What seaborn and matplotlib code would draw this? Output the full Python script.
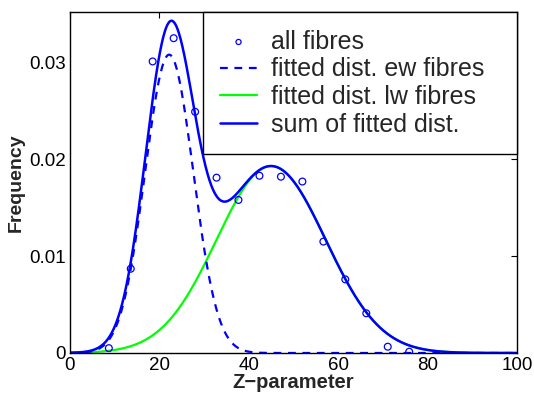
import numpy as np
import pandas as pd
import matplotlib
matplotlib.use("Agg")
import matplotlib.pyplot as plt
import seaborn as sns
from matplotlib.ticker import FuncFormatter

# Observed histogram points (all fibres)
z_points = [8.7, 13.6, 18.5, 23.2, 28.0, 32.8, 37.7, 42.4, 47.2, 52.0, 56.7, 61.6, 66.3, 71.1, 75.9]
freq_points = [0.0005, 0.0087, 0.0301, 0.0325, 0.0249, 0.0181, 0.0158, 0.0183, 0.0182, 0.0177,
               0.0115, 0.0076, 0.0041, 0.00065, 0.00013]

# Fitted normal-distribution parameters (mean, sd, peak height)
ew_mean, ew_sd, ew_peak = 22.2, 5.4, 0.0308
lw_mean, lw_sd, lw_peak = 45.0, 12.2, 0.0193

x_ticks = [0, 20, 40, 60, 80, 100]
y_ticks = [0, 0.01, 0.02, 0.03]

z = np.linspace(0, 100, 801)
ew = ew_peak * np.exp(-(z - ew_mean) ** 2 / (2 * ew_sd ** 2))
lw = lw_peak * np.exp(-(z - lw_mean) ** 2 / (2 * lw_sd ** 2))
total = ew + lw
curves = pd.DataFrame({"z": z, "ew": ew, "lw": lw, "sum": total})
pts = pd.DataFrame({"z": z_points, "f": freq_points})

sns.set_style("white")
plt.rcParams["font.family"] = ["Liberation Sans", "DejaVu Sans"]

fig = plt.figure(figsize=(5.34, 3.96), dpi=100)
ax = fig.add_axes([0.131, 0.1086, 0.837, 0.861])

blue = "#0000ff"
sns.scatterplot(data=pts, x="z", y="f", ax=ax, marker="o", s=24, facecolor="none",
                edgecolor=blue, linewidth=0.9, label="all fibres", zorder=3)
sns.lineplot(data=curves, x="z", y="ew", ax=ax, color=blue, lw=1.6, linestyle=(0, (3.5, 3)),
             label="fitted dist. ew fibres", zorder=2)
sns.lineplot(data=curves, x="z", y="lw", ax=ax, color="#00ff00", lw=1.6,
             label="fitted dist. lw fibres", zorder=1)
sns.lineplot(data=curves, x="z", y="sum", ax=ax, color=blue, lw=1.8,
             label="sum of fitted dist.", zorder=2.5)

ax.set_xlim(0, 100)
ax.set_ylim(0, 0.0352)
ax.set_xticks(x_ticks)
ax.set_yticks(y_ticks)
ax.yaxis.set_major_formatter(FuncFormatter(lambda v, p: "0" if v == 0 else f"{v:.2f}"))
ax.tick_params(direction="in", length=4, width=0.8, top=True, right=True,
               labelsize=13.5, colors="black", pad=3)
for s in ax.spines.values():
    s.set_color("black")
    s.set_linewidth(1.0)

ax.set_xlabel("Z\u2212parameter", fontsize=14.5, fontweight="bold", labelpad=-1)
ax.set_ylabel("Frequency", fontsize=14, fontweight="bold", labelpad=3)

leg = ax.legend(loc="upper left", bbox_to_anchor=(0.2975, 0.0, 0.7025, 1.0), mode="expand",
                borderaxespad=0, fontsize=18, frameon=True, fancybox=False,
                handlelength=1.45, handletextpad=0.56, labelspacing=0.15, borderpad=0.7,
                markerscale=0.75)
leg.get_frame().set_edgecolor("black")
leg.get_frame().set_linewidth(1.0)
leg.get_frame().set_alpha(1)

fig.savefig("out.png", dpi=100)
